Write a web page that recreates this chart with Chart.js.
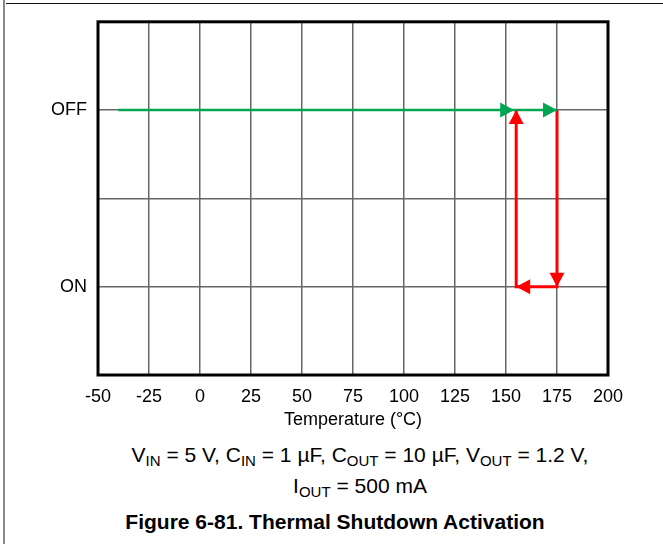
<!DOCTYPE html>
<html>
<head>
<meta charset="utf-8">
<script src="https://cdn.jsdelivr.net/npm/chart.js@4/dist/chart.umd.min.js"></script>
<style>
  body { margin: 0; background: #fff; width: 663px; height: 544px; position: relative; overflow: hidden; font-family: "Liberation Sans", Arial, sans-serif; }
  #leftRule { position: absolute; left: 3px; top: 0; width: 2px; height: 544px; background: #8a8a8a; }
  #topRule { position: absolute; left: 6px; top: 3px; width: 657px; height: 1px; background: #111; }
  #chartBox { position: absolute; left: 0; top: 0; width: 663px; height: 432px; }
  .caption { position: absolute; left: 60px; width: 600px; text-align: center; font-size: 21px; line-height: 21px; color: #000; white-space: nowrap; }
  .caption sub { font-size: 15px; vertical-align: baseline; position: relative; top: 4px; }
  #figTitle { left: 35px; font-weight: bold; font-size: 21px; }
</style>
</head>
<body>
<div id="leftRule"></div>
<div id="topRule"></div>
<div id="chartBox"><canvas id="shutdownChart" width="663" height="432"></canvas></div>
<div class="caption" style="top:444px;">V<sub>IN</sub> = 5 V, C<sub>IN</sub> = 1 µF, C<sub>OUT</sub> = 10 µF, V<sub>OUT</sub> = 1.2 V,</div>
<div class="caption" style="top:475px;">I<sub>OUT</sub> = 500 mA</div>
<div class="caption" id="figTitle" style="top:511px;">Figure 6-81. Thermal Shutdown Activation</div>

<script>
// Axis setup
const tempMin = -50;
const tempMax = 200;
const tempStep = 25;
const stateLabels = ['', 'ON', '', 'OFF', ''];

// Rising temperature until the device trips OFF (green)
const heatingTemps = [-40, 154, 175];
const heatingStates = [3, 3, 3];
const heatingArrows = [1, 2];

// Shutdown / recovery loop (red)
const coolingTemps = [175, 175, 155, 155];
const coolingStates = [3, 1, 1, 3];
const coolingArrows = [1, 2, 3];

function toPoints(xs, ys) {
  return xs.map((x, i) => ({ x: x, y: ys[i] }));
}

// Draws the thick black box round the plot
const framePlugin = {
  id: 'frame',
  beforeDatasetsDraw(chart) {
    const a = chart.chartArea;
    const ctx = chart.ctx;
    ctx.save();
    ctx.strokeStyle = '#000';
    ctx.lineWidth = 3;
    ctx.strokeRect(a.left, a.top, a.right - a.left, a.bottom - a.top);
    ctx.restore();
  }
};

// Filled arrowheads at chosen points, pointing along the incoming segment
const arrowPlugin = {
  id: 'arrowheads',
  afterDatasetsDraw(chart) {
    const ctx = chart.ctx;
    chart.data.datasets.forEach((ds, di) => {
      const pts = chart.getDatasetMeta(di).data;
      (ds.arrowAt || []).forEach(i => {
        const tip = pts[i];
        const prev = pts[i - 1];
        const ang = Math.atan2(tip.y - prev.y, tip.x - prev.x);
        const len = 14;
        const half = 7.5;
        ctx.save();
        ctx.translate(tip.x, tip.y);
        ctx.rotate(ang);
        ctx.beginPath();
        ctx.moveTo(0, 0);
        ctx.lineTo(-len, -half);
        ctx.lineTo(-len, half);
        ctx.closePath();
        ctx.fillStyle = ds.borderColor;
        ctx.fill();
        ctx.restore();
      });
    });
  }
};

const tickFont = { family: '"Liberation Sans", Arial, sans-serif', size: 18 };

const ctx = document.getElementById('shutdownChart').getContext('2d');
new Chart(ctx, {
  type: 'scatter',
  data: {
    datasets: [
      {
        label: 'Heating',
        data: toPoints(heatingTemps, heatingStates),
        showLine: true,
        borderColor: '#00a651',
        borderWidth: 2.5,
        pointRadius: 0,
        arrowAt: heatingArrows
      },
      {
        label: 'Shutdown',
        data: toPoints(coolingTemps, coolingStates),
        showLine: true,
        borderColor: '#ff0000',
        borderWidth: 3,
        pointRadius: 0,
        arrowAt: coolingArrows
      }
    ]
  },
  options: {
    responsive: false,
    animation: false,
    layout: { padding: { top: 16, right: 55, left: 0, bottom: 0 } },
    plugins: {
      legend: { display: false },
      tooltip: { enabled: false }
    },
    scales: {
      x: {
        type: 'linear',
        min: tempMin,
        max: tempMax,
        ticks: { stepSize: tempStep, color: '#000', font: tickFont, padding: 11, maxRotation: 0 },
        grid: { color: '#666', lineWidth: 1.5, drawTicks: false },
        border: { display: false },
        title: {
          display: true,
          text: 'Temperature (°C)',
          color: '#000',
          font: tickFont,
          padding: { top: 0, bottom: 1 }
        },
        afterFit(scale) { scale.height = 57; }
      },
      y: {
        min: 0,
        max: 4,
        ticks: {
          stepSize: 1,
          color: '#000',
          font: tickFont,
          padding: 11,
          callback: value => stateLabels[value]
        },
        grid: { color: '#666', lineWidth: 1.5, drawTicks: false },
        border: { display: false },
        afterFit(scale) { scale.width = 98; }
      }
    }
  },
  plugins: [framePlugin, arrowPlugin]
});
</script>
</body>
</html>
